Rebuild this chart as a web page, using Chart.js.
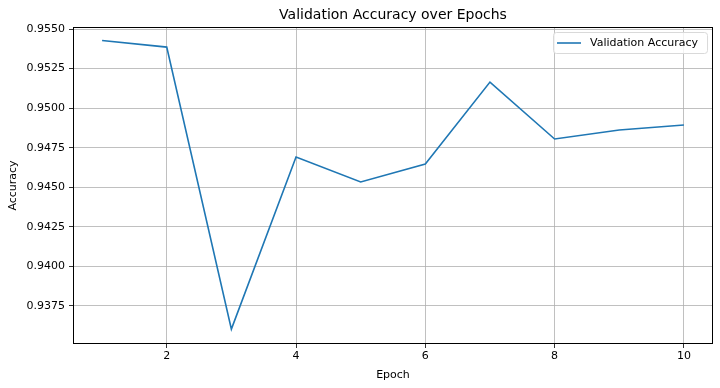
<!DOCTYPE html>
<html>
<head>
<meta charset="utf-8">
<script src="https://cdn.jsdelivr.net/npm/chart.js@4"></script>
<style>
  html, body { margin: 0; padding: 0; background: #fff; }
  #wrap { width: 720px; height: 388px; }
</style>
</head>
<body>
<div id="wrap"><canvas id="accChart" width="720" height="388"></canvas></div>
<script>
// values
const epochs = [1, 2, 3, 4, 5, 6, 7, 8, 9, 10];
const valAccuracy = [0.95428, 0.95386, 0.93603, 0.94691, 0.94533, 0.94647, 0.95165, 0.94805, 0.94862, 0.94893];
const xTicks = [2, 4, 6, 8, 10];
const yTicks = [0.9375, 0.9400, 0.9425, 0.9450, 0.9475, 0.9500, 0.9525, 0.9550];
const chartTitle = 'Validation Accuracy over Epochs';

const FONT = 'DejaVu Sans';
Chart.defaults.font.family = FONT;
Chart.defaults.color = '#000';

// title over the axes, spines, in-axes legend (matplotlib look)
const mplExtras = {
    id: 'mplExtras',
    afterDatasetsDraw(chart) {
        const { ctx, chartArea: a } = chart;
        ctx.save();
        ctx.strokeStyle = '#000';
        ctx.lineWidth = 1;
        ctx.strokeRect(a.left + 0.5, a.top + 0.5, a.right - a.left - 1, a.bottom - a.top - 1);

        ctx.fillStyle = '#000';
        ctx.font = '14px "' + FONT + '"';
        ctx.textAlign = 'center';
        ctx.textBaseline = 'middle';
        ctx.fillText(chartTitle, (a.left + a.right) / 2, 15);

        const ds = chart.data.datasets[0];
        ctx.font = '11px "' + FONT + '"';
        ctx.textAlign = 'left';
        const tw = ctx.measureText(ds.label).width;
        const w = tw + 46, h = 21;
        const x = Math.round(a.right - 6 - w), y = a.top + 5;
        ctx.fillStyle = 'rgba(255,255,255,0.8)';
        ctx.strokeStyle = '#d9d9d9';
        ctx.beginPath();
        ctx.roundRect(x + 0.5, y + 0.5, w, h, 3);
        ctx.fill();
        ctx.stroke();
        ctx.strokeStyle = ds.borderColor;
        ctx.lineWidth = ds.borderWidth;
        ctx.beginPath();
        ctx.moveTo(x + 4, y + h / 2 + 0.5);
        ctx.lineTo(x + 28, y + h / 2 + 0.5);
        ctx.stroke();
        ctx.fillStyle = '#000';
        ctx.fillText(ds.label, x + 37, y + h / 2 + 1);
        ctx.restore();
    }
};

new Chart(document.getElementById('accChart'), {
    type: 'line',
    data: {
        datasets: [{
            label: 'Validation Accuracy',
            data: epochs.map((e, i) => ({ x: e, y: valAccuracy[i] })),
            borderColor: '#1f77b4',
            borderWidth: 1.6,
            pointRadius: 0,
            tension: 0,
            fill: false,
        }]
    },
    options: {
        responsive: false,
        animation: false,
        layout: { padding: { left: 0, right: 7, top: 27, bottom: 0 } },
        plugins: {
            legend: { display: false },
            tooltip: { enabled: false },
            title: { display: false },
        },
        scales: {
            x: {
                type: 'linear',
                min: 0.55,
                max: 10.45,
                afterBuildTicks: s => { s.ticks = xTicks.map(v => ({ value: v })); },
                afterFit: s => { s.height = 44; },
                ticks: { font: { size: 11 }, padding: 2, maxRotation: 0 },
                grid: { color: '#b0b0b0', lineWidth: 0.8, tickColor: '#000', tickLength: 4 },
                border: { display: false },
                title: { display: true, text: 'Epoch', font: { size: 11 }, padding: { top: 3, bottom: 6 } },
            },
            y: {
                min: 0.93509,
                max: 0.95513,
                afterBuildTicks: s => { s.ticks = yTicks.map(v => ({ value: v })); },
                afterFit: s => { s.width = 73; },
                ticks: { font: { size: 11 }, padding: 4, callback: v => v.toFixed(4) },
                grid: { color: '#b0b0b0', lineWidth: 0.8, tickColor: '#000', tickLength: 4 },
                border: { display: false },
                title: { display: true, text: 'Accuracy', font: { size: 11 }, padding: { top: 7, bottom: 4 } },
            }
        }
    },
    plugins: [mplExtras]
});
</script>
</body>
</html>
